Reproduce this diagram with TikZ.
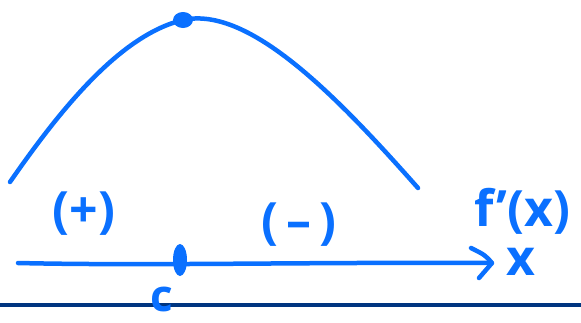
\documentclass[tikz,border=0pt]{standalone}
\usepackage{fontspec}
\setmainfont{Open Sans}
\definecolor{pen}{HTML}{0A70FF}
\definecolor{navy}{HTML}{003580}
\tikzset{
  ink/.style={draw=pen, line width=4.5pt, line cap=round, line join=round},
  lbl/.style={text=pen, font=\fontsize{50}{50}\selectfont\bfseries, inner sep=0pt}
}
\begin{document}
\begin{tikzpicture}[x=1pt,y=-1pt]
\useasboundingbox (0,0) rectangle (581,322);
% hump curve
\coordinate (s) at (10,182);
\coordinate (p) at (183,20);
\coordinate (e) at (418,188);
\draw[ink] (s) .. controls (60,110) and (120,35) .. (p)
  .. controls (250,5) and (340,100) .. (e);
\fill[pen] (p) ellipse (10 and 8);
% axis
\coordinate (a0) at (18,263);
\coordinate (a1) at (492,263);
\draw[ink] (a0) .. controls (150,266) and (300,262) .. (a1);
\draw[ink] (471,248) .. controls (485,255) .. (a1) .. controls (485,270) .. (479,278);
\coordinate (c) at (180,260);
\fill[pen] (c) ellipse (7 and 16);
% labels
\node[lbl] (plus) at (84,214) {(+)};
\node[lbl] (minus) at (299,225) {(\,–\,)};
\node[lbl] (fx) at (522,211) {f\char"0027(x)};
\node[lbl] (x) at (521,262) {x};
% separator line
\coordinate (l0) at (0,305);
\coordinate (l1) at (581,305);
\draw[navy, line width=4pt] (l0) -- (l1);
\node[lbl, font=\fontsize{44}{44}\selectfont\bfseries, anchor=base, text depth=0pt] (cl) at (162,311) {c};
\end{tikzpicture}
\end{document}
